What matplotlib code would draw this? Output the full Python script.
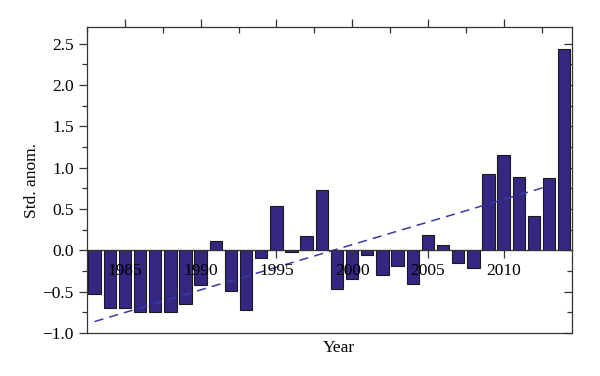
import matplotlib
matplotlib.use("Agg")
import matplotlib.pyplot as plt
from matplotlib.ticker import MultipleLocator
import numpy as np

years = np.arange(1983, 2015)
anomaly = [-0.53, -0.70, -0.70, -0.745, -0.745, -0.745, -0.65, -0.42,
           0.11, -0.49, -0.72, -0.09, 0.535, -0.02, 0.18, 0.73,
           -0.47, -0.35, -0.06, -0.30, -0.19, -0.41, 0.19, 0.07,
           -0.15, -0.21, 0.925, 1.15, 0.89, 0.42, 0.88, 2.44]
trend_years = [1983, 2013]
trend_values = [-0.86, 0.78]

plt.rcParams['font.family'] = ['Liberation Serif', 'DejaVu Serif']
bar_color = '#352781'
y_min, y_max = -1.0, 2.7

fig = plt.figure(figsize=(6, 3.76), dpi=100)
ax = fig.add_axes([0.145, 0.114, 0.808, 0.814])

ax.bar(years, anomaly, width=0.82, color=bar_color, edgecolor='#1a1a1a',
       linewidth=0.8, zorder=2)
ax.plot(trend_years, trend_values, color='#3a3aa6', linestyle=(0, (6, 4)),
        linewidth=1.1, zorder=3)

ax.set_xlim(1982.5, 2014.5)
ax.set_ylim(y_min, y_max)

for s in ax.spines.values():
    s.set_color('#333333')
    s.set_linewidth(0.9)

# y axis: left ticks outward with labels
ax.yaxis.set_major_locator(MultipleLocator(0.5))
ax.yaxis.set_minor_locator(MultipleLocator(0.25))
ax.yaxis.set_major_formatter(matplotlib.ticker.FuncFormatter(
    lambda v, p: f'{v:.1f}'.replace('-', '\u2212')))
ax.tick_params(axis='y', which='major', direction='out', length=6,
               width=0.9, labelsize=12.5, color='#333333')
ax.tick_params(axis='y', which='minor', direction='out', length=3.5,
               width=0.9, color='#333333')

# right spine ticks pointing in
ry = ax.secondary_yaxis('right')
ry.yaxis.set_major_locator(MultipleLocator(0.5))
ry.yaxis.set_minor_locator(MultipleLocator(0.25))
ry.tick_params(which='major', direction='in', length=6, width=0.9,
               labelright=False, color='#333333')
ry.tick_params(which='minor', direction='in', length=3.5, width=0.9,
               color='#333333')
ry.spines['right'].set_visible(False)

# top ticks, no labels
ax.xaxis.tick_top()
ax.xaxis.set_major_locator(MultipleLocator(5))
ax.xaxis.set_minor_locator(MultipleLocator(2.5))
ax.tick_params(axis='x', which='major', direction='out', length=6,
               width=0.9, labeltop=False, color='#333333')
ax.tick_params(axis='x', which='minor', direction='in', length=4,
               width=0.9, color='#333333')

# year axis along the zero line, drawn over the bars
zero_frac = (0 - y_min) / (y_max - y_min)
zx = ax.secondary_xaxis(zero_frac)
zx.xaxis.set_major_locator(MultipleLocator(5))
zx.xaxis.set_major_formatter(matplotlib.ticker.FormatStrFormatter('%d'))
zx.tick_params(direction='out', length=6, width=0.9, labelsize=12.5,
               pad=3, color='#333333')
zx.spines['bottom'].set_color('#333333')
zx.spines['bottom'].set_linewidth(0.9)
zx.set_zorder(5)

ax.set_ylabel('Std. anom.', fontsize=12.5, labelpad=2)
fig.text(0.565, 0.075, 'Year', fontsize=12.5, ha='center', va='center')

fig.savefig('out.png', dpi=100)
